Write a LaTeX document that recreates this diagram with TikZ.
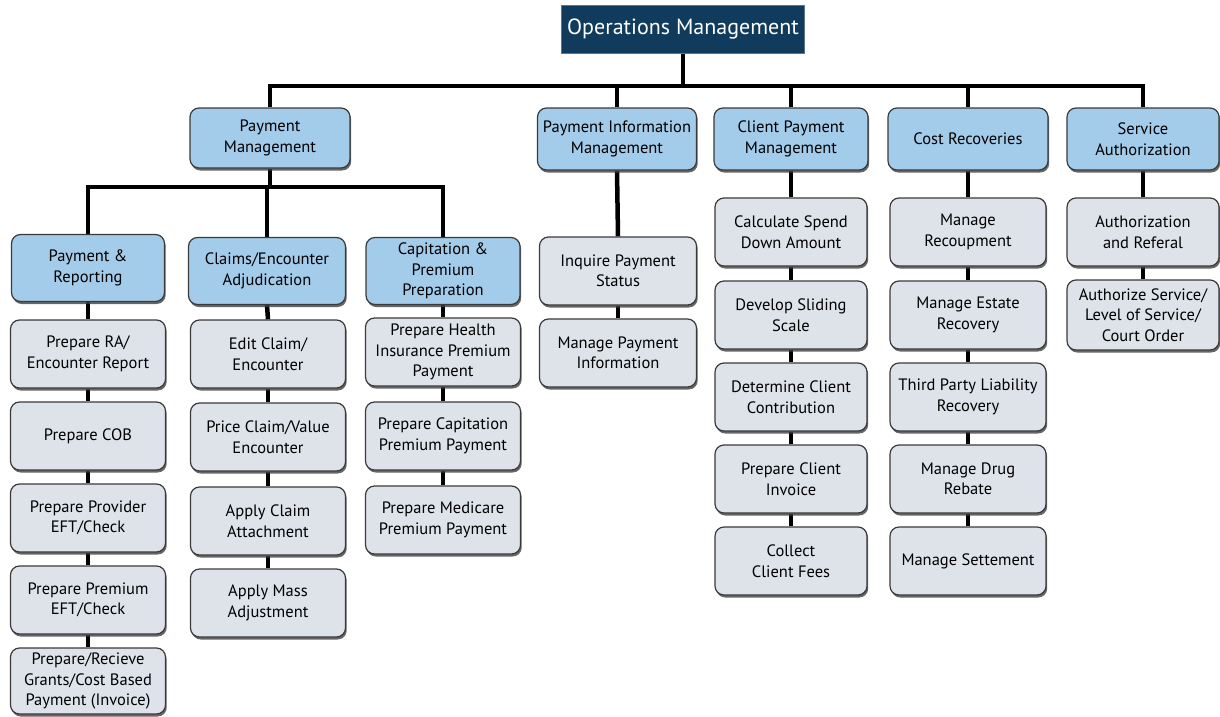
\documentclass[tikz,border=0pt]{standalone}
\usepackage{fontspec}
\setmainfont{PT Sans}
\usetikzlibrary{shadows,backgrounds}
\definecolor{navy}{HTML}{113B5C}
\definecolor{lblue}{HTML}{A3CBEA}
\definecolor{lgray}{HTML}{DEE3EA}
\definecolor{edge}{HTML}{3A3A3A}
\tikzset{
  base/.style={draw=edge, line width=1.2pt, rounded corners=9pt, align=center,
    font=\fontsize{16.5}{20.5}\selectfont, inner sep=1pt,
    drop shadow={shadow xshift=1.2pt, shadow yshift=-2.5pt, fill=black!75, opacity=0.8}},
  bluebox/.style={base, fill=lblue},
  graybox/.style={base, fill=lgray},
  rootbox/.style={fill=navy, text=white, draw=navy!70!white, line width=0.8pt,
    font=\fontsize{22}{26}\selectfont, minimum width=243pt, minimum height=48pt},
  conn/.style={line width=4.5pt, black}
}
\begin{document}
\begin{tikzpicture}[x=1pt,y=-1pt]
\useasboundingbox (0,0) rectangle (1220,717);
% root
\node[rootbox] (root) at (683,29) {Operations Management};
% level 1
\node[bluebox, minimum width=160pt, minimum height=60pt] (pm) at (270,138) {Payment\\Management};
\node[bluebox, minimum width=159pt, minimum height=62pt] (pim) at (617,139) {Payment Information\\Management};
\node[bluebox, minimum width=154pt, minimum height=62pt] (cpm) at (791,139) {Client Payment\\Management};
\node[bluebox, minimum width=160pt, minimum height=62pt] (cr) at (968,139) {Cost Recoveries};
\node[bluebox, minimum width=152pt, minimum height=62pt] (sa) at (1143,139) {Service\\Authorization};
% level 2
\node[bluebox, minimum width=153pt, minimum height=67pt] (pr) at (88,268) {Payment \&\\Reporting};
\node[bluebox, minimum width=157pt, minimum height=67pt] (cea) at (267,271) {Claims/Encounter\\Adjudication};
\node[bluebox, minimum width=154pt, minimum height=67pt] (cpp) at (443,271) {Capitation \&\\Premium\\Preparation};
% column 1
\node[graybox, minimum width=155pt, minimum height=68pt] (a1) at (88,354) {Prepare RA/\\Encounter Report};
\node[graybox, minimum width=155pt, minimum height=68pt] (a2) at (88,436) {Prepare COB};
\node[graybox, minimum width=155pt, minimum height=68pt] (a3) at (88,518) {Prepare Provider\\EFT/Check};
\node[graybox, minimum width=155pt, minimum height=68pt] (a4) at (88,600) {Prepare Premium\\EFT/Check};
\node[graybox, minimum width=155pt, minimum height=66pt] (a5) at (88,681) {Prepare/Recieve\\Grants/Cost Based\\Payment (Invoice)};
% column 2
\node[graybox, minimum width=155pt, minimum height=68pt] (b1) at (268,354) {Edit Claim/\\Encounter};
\node[graybox, minimum width=155pt, minimum height=68pt] (b2) at (268,437) {Price Claim/Value\\Encounter};
\node[graybox, minimum width=155pt, minimum height=68pt] (b3) at (268,521) {Apply Claim\\Attachment};
\node[graybox, minimum width=155pt, minimum height=68pt] (b4) at (268,603) {Apply Mass\\Adjustment};
% column 3
\node[graybox, minimum width=155pt, minimum height=68pt] (c1) at (443,352) {Prepare Health\\Insurance Premium\\Payment};
\node[graybox, minimum width=155pt, minimum height=68pt] (c2) at (443,436) {Prepare Capitation\\Premium Payment};
\node[graybox, minimum width=155pt, minimum height=68pt] (c3) at (443,520) {Prepare Medicare\\Premium Payment};
% payment information column
\node[graybox, minimum width=157pt, minimum height=68pt] (d1) at (618,271) {Inquire Payment\\Status};
\node[graybox, minimum width=157pt, minimum height=68pt] (d2) at (618,353) {Manage Payment\\Information};
% client payment column
\node[graybox, minimum width=152pt, minimum height=68pt] (e1) at (791,232) {Calculate Spend\\Down Amount};
\node[graybox, minimum width=152pt, minimum height=68pt] (e2) at (791,315) {Develop Sliding\\Scale};
\node[graybox, minimum width=152pt, minimum height=68pt] (e3) at (791,397) {Determine Client\\Contribution};
\node[graybox, minimum width=152pt, minimum height=68pt] (e4) at (791,479) {Prepare Client\\Invoice};
\node[graybox, minimum width=152pt, minimum height=68pt] (e5) at (791,561) {Collect\\Client Fees};
% cost recoveries column
\node[graybox, minimum width=156pt, minimum height=68pt] (f1) at (968,232) {Manage\\Recoupment};
\node[graybox, minimum width=156pt, minimum height=68pt] (f2) at (968,315) {Manage Estate\\Recovery};
\node[graybox, minimum width=156pt, minimum height=68pt] (f3) at (968,397) {Third Party Liability\\Recovery};
\node[graybox, minimum width=156pt, minimum height=68pt] (f4) at (968,479) {Manage Drug\\Rebate};
\node[graybox, minimum width=156pt, minimum height=68pt] (f5) at (968,561) {Manage Settement};
% service authorization column
\node[graybox, minimum width=152pt, minimum height=68pt] (g1) at (1143,232) {Authorization\\and Referal};
\node[graybox, minimum width=152pt, minimum height=70pt] (g2) at (1143,315) {Authorize Service/\\Level of Service/\\Court Order};
% connectors
\coordinate (bar1) at (0,86);
\coordinate (bar2) at (0,187);
\begin{pgfonlayer}{background}
\draw[conn] (root.south) -- (root.south |- bar1);
\foreach \n in {pm,pim,cpm,cr,sa}{
  \draw[conn] (root.south |- bar1) -| (\n.north);
}
\draw[conn] (pm.south) -- (pm.south |- bar2);
\foreach \n in {pr,cea,cpp}{
  \draw[conn] (pm.south |- bar2) -| (\n.north);
}
\draw[conn] (pr.south) -- (a1.north);
\draw[conn] (a1.south) -- (a2.north);
\draw[conn] (a2.south) -- (a3.north);
\draw[conn] (a3.south) -- (a4.north);
\draw[conn] (a4.south) -- (a5.north);
\draw[conn] (cea.south) -- (b1.north);
\draw[conn] (b1.south) -- (b2.north);
\draw[conn] (b2.south) -- (b3.north);
\draw[conn] (b3.south) -- (b4.north);
\draw[conn] (cpp.south) -- (c1.north);
\draw[conn] (c1.south) -- (c2.north);
\draw[conn] (c2.south) -- (c3.north);
\draw[conn] (pim.south) -- (d1.north);
\draw[conn] (d1.south) -- (d2.north);
\draw[conn] (cpm.south) -- (e1.north);
\draw[conn] (e1.south) -- (e2.north);
\draw[conn] (e2.south) -- (e3.north);
\draw[conn] (e3.south) -- (e4.north);
\draw[conn] (e4.south) -- (e5.north);
\draw[conn] (cr.south) -- (f1.north);
\draw[conn] (f1.south) -- (f2.north);
\draw[conn] (f2.south) -- (f3.north);
\draw[conn] (f3.south) -- (f4.north);
\draw[conn] (f4.south) -- (f5.north);
\draw[conn] (sa.south) -- (g1.north);
\draw[conn] (g1.south) -- (g2.north);
\end{pgfonlayer}
\end{tikzpicture}
\end{document}
